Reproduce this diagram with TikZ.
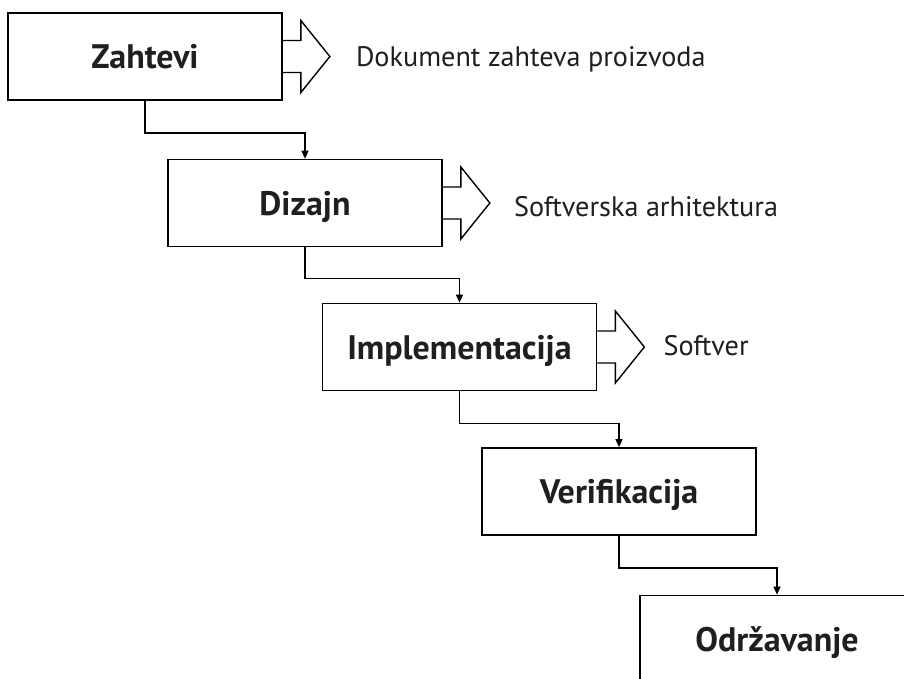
\documentclass[tikz,border=0pt]{standalone}
\usepackage{fontspec}
\setmainfont{PT Sans}
\usetikzlibrary{arrows.meta,calc}

% hollow block arrow leaving the right side of a phase box
\newcommand\outflow[1]{%
  \draw[flowarrow] ([yshift=16pt]#1.east) -- ++(18,0) -- ++(0,20)
    -- ++(29,-36) coordinate (#1-tip) -- ++(-29,-36) -- ++(0,20) -- ++(-18,0);}

\begin{document}
\begin{tikzpicture}[x=1pt,y=1pt,
  phase/.style={draw=black, line width=1.7pt, fill=white,
    minimum width=274pt, minimum height=87pt, inner sep=0pt,
    text=black!88, font=\fontsize{34}{34}\selectfont\bfseries,
    text height=24pt, text depth=0pt},
  flowarrow/.style={draw=black, line width=1.4pt, line join=miter},
  outlabel/.style={text=black!88, inner sep=0pt,
    font=\fontsize{28.2}{30}\selectfont},
  link/.style={draw=black, line width=1.3pt,
    -{Triangle[length=8pt,width=7pt]}}]

\clip (0,0) rectangle (904,-678);
\fill[white] (0,0) rectangle (904,-678);

% waterfall phases
\node[phase] (z) at (145,-56.5)  {Zahtevi};
\node[phase] (d) at (305,-203)   {Dizajn};
\node[phase] (i) at (459.5,-347) {Implementacija};
\node[phase] (v) at (619,-491.5) {Verifikacija};
\node[phase] (o) at (777,-639)   {Održavanje};

% step-down links between phases
\draw[link] (z.south) -- ++(0,-32) -| (d.north);
\draw[link] (d.south) -- ++(0,-31) -| (i.north);
\draw[link] (i.south) -- ++(0,-32) -| (v.north);
\draw[link] (v.south) -- ++(0,-32) -| (o.north);

% outputs of the first three phases
\outflow{z}
\outflow{d}
\outflow{i}
\node[outlabel, anchor=base west] (zo) at ($(z-tip)+(26,-10)$) {Dokument zahteva proizvoda};
\node[outlabel, anchor=base west] (do) at ($(d-tip)+(24,-13)$) {Softverska arhitektura};
\node[outlabel, anchor=base west] (io) at ($(i-tip)+(19,-8)$)  {Softver};
\end{tikzpicture}
\end{document}
